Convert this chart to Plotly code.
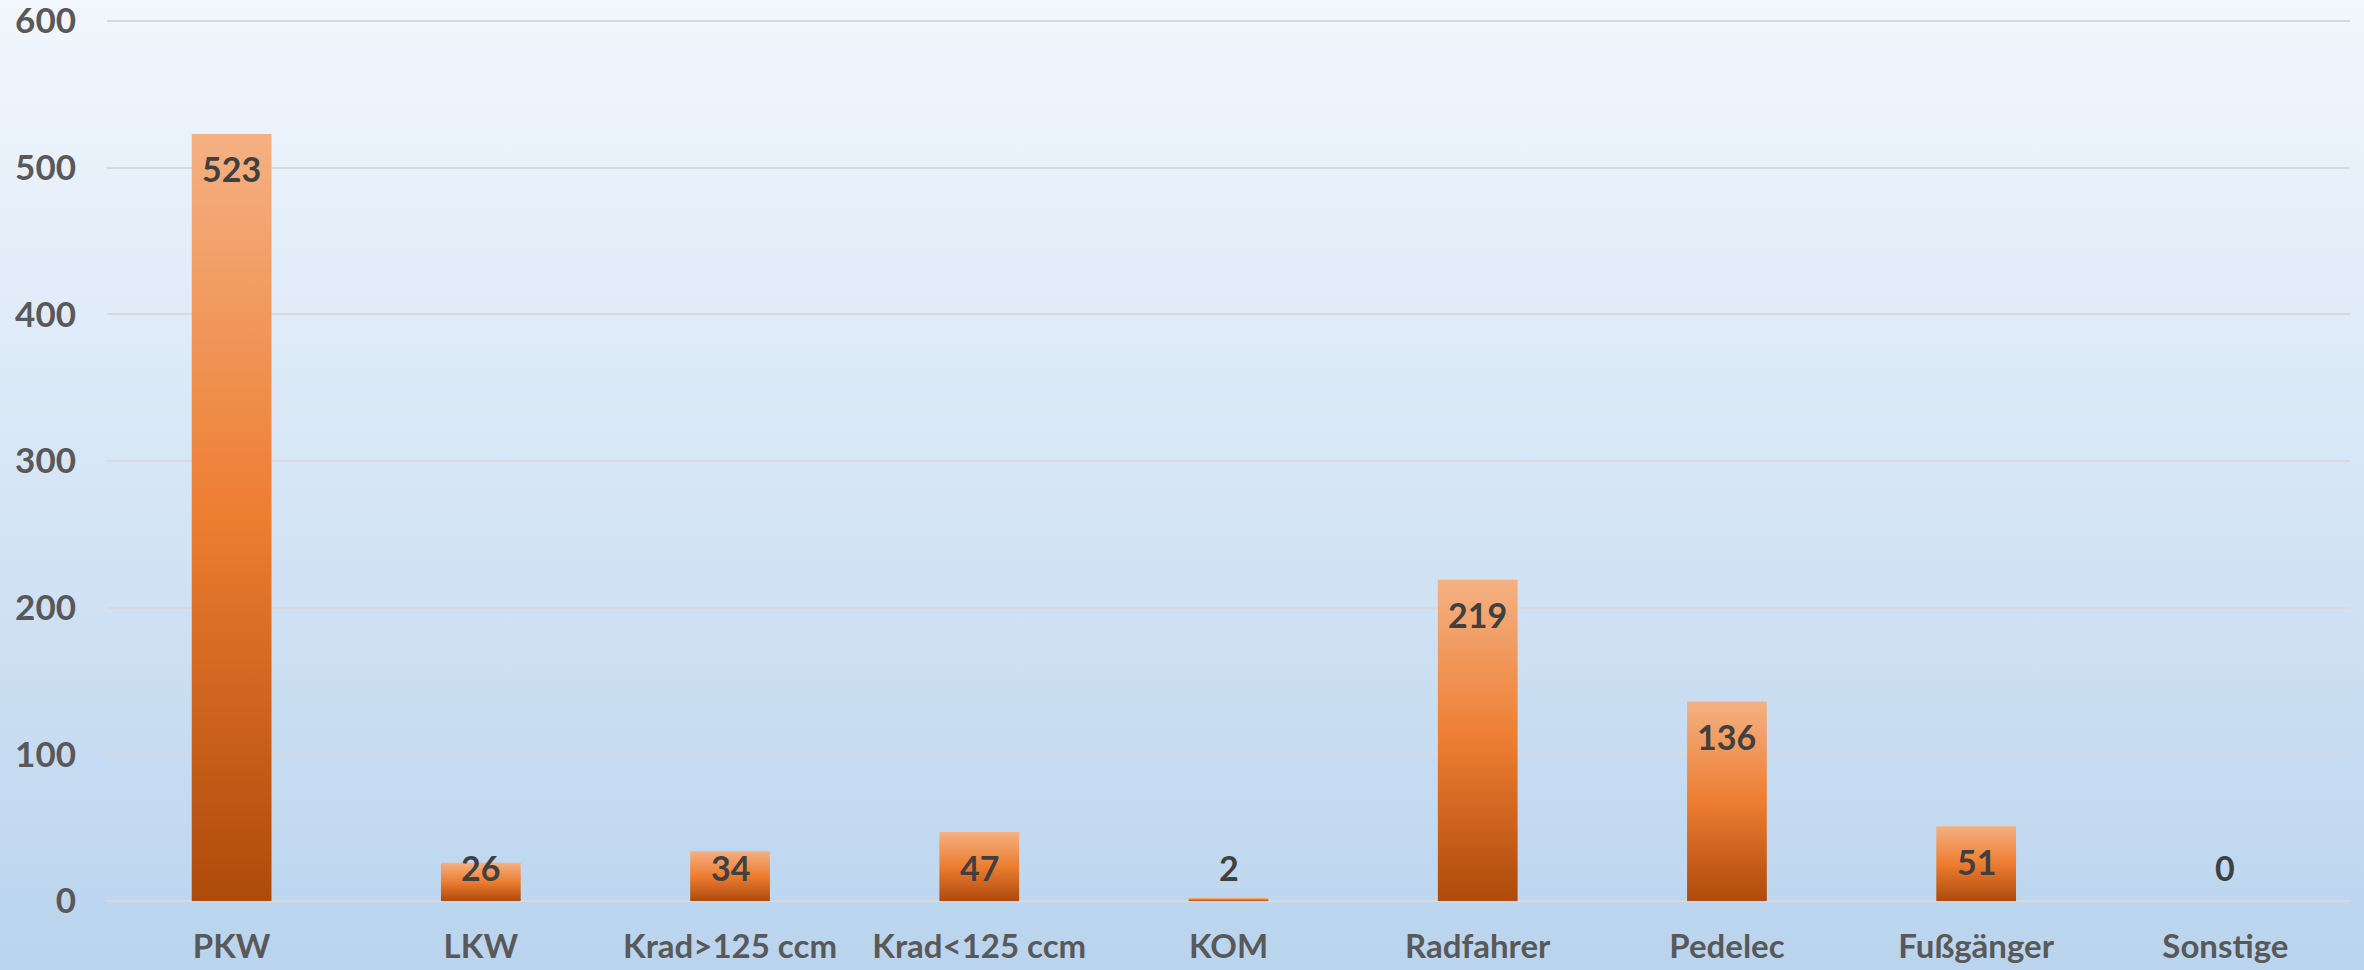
import base64
import plotly.graph_objects as go

categories = ["PKW", "LKW", "Krad>125 ccm", "Krad<125 ccm", "KOM",
              "Radfahrer", "Pedelec", "Fußgänger", "Sonstige"]
values = [523, 26, 34, 47, 2, 219, 136, 51, 0]
y_ticks = [0, 100, 200, 300, 400, 500, 600]

W, H = 2364, 970
ML, MR, MT, MB = 107, 14, 20, 69
PW, PH = W - ML - MR, H - MT - MB

FONT = "Lato"
HALF = 0.16
grad = [[0.0, "#AE4A0B"], [0.5, "#ED7D31"], [1.0, "#F4B183"]]

fig = go.Figure()
for i, (cat, v) in enumerate(zip(categories, values)):
    fig.add_trace(go.Scatter(
        x=[i - HALF, i + HALF, i + HALF, i - HALF, i - HALF],
        y=[0, 0, v, v, 0],
        mode="none", fill="toself",
        fillgradient=dict(type="vertical", colorscale=grad),
        name=cat, showlegend=False,
        hoverinfo="text", text=f"{cat}: {v}",
    ))

LABEL_FLOOR = 46.5
for i, v in enumerate(values):
    fig.add_annotation(
        x=i, y=max(v, LABEL_FLOOR), xref="x", yref="y",
        text=str(v), showarrow=False, yanchor="middle", yshift=-35,
        font=dict(family=FONT, size=34, color="#404040", weight="bold"),
    )

svg = (f'<svg xmlns="http://www.w3.org/2000/svg" width="{W}" height="{H}" '
       f'viewBox="0 0 {W} {H}" preserveAspectRatio="none">'
       '<defs><linearGradient id="g" x1="0" y1="0" x2="0" y2="1">'
       '<stop offset="0" stop-color="#F2F7FD"/>'
       '<stop offset="1" stop-color="#BAD4EE"/></linearGradient></defs>'
       f'<rect x="0" y="0" width="{W}" height="{H}" fill="url(#g)"/></svg>')
src = "data:image/svg+xml;base64," + base64.b64encode(svg.encode()).decode()

fig.add_layout_image(
    source=src, xref="paper", yref="paper",
    x=-ML / PW, y=1 + MT / PH, sizex=W / PW, sizey=H / PH,
    xanchor="left", yanchor="top", sizing="stretch", layer="below",
)

fig.update_layout(
    width=W, height=H,
    margin=dict(l=ML, r=MR, t=MT, b=MB, pad=0, autoexpand=False),
    paper_bgcolor="#D6E6F5", plot_bgcolor="rgba(0,0,0,0)",
    showlegend=False,
    font=dict(family=FONT, color="#595959"),
    xaxis=dict(
        range=[-0.5, len(categories) - 0.5],
        tickmode="array", tickvals=list(range(len(categories))),
        ticktext=categories, showgrid=False, zeroline=False,
        showline=False, ticks="", ticklabelstandoff=23, automargin=False,
        ticklabeloverflow="allow",
        tickfont=dict(family=FONT, size=33, color="#595959", weight="bold"),
        fixedrange=True,
    ),
    yaxis=dict(
        range=[0, 600.7], tickmode="array", tickvals=y_ticks,
        showgrid=True, gridcolor="#D9D9D9", gridwidth=2,
        zeroline=True, zerolinecolor="#D9D9D9", zerolinewidth=2,
        showline=False, ticks="", ticklabelstandoff=30, automargin=False,
        ticklabeloverflow="allow",
        tickfont=dict(family=FONT, size=35, color="#595959", weight="bold"),
        fixedrange=True,
    ),
)

fig.write_html("out.html", config={"displayModeBar": False},
               post_script="document.body.style.margin='0px';"
                           "document.body.style.overflow='hidden';")
